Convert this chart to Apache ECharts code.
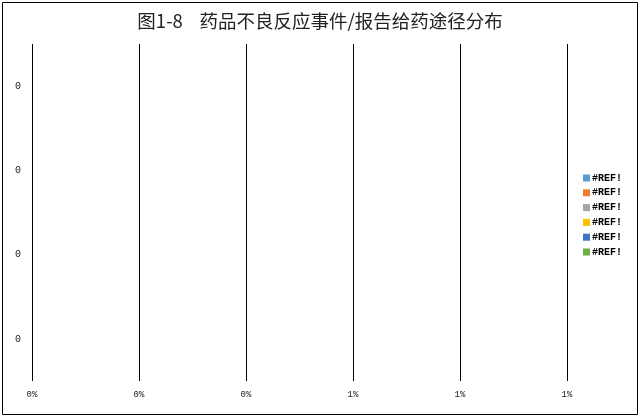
<!DOCTYPE html>
<html>
<head>
<meta charset="utf-8">
<script src="https://cdn.jsdelivr.net/npm/echarts@6/dist/echarts.min.js"></script>
<style>
  html, body { margin: 0; padding: 0; background: #fff; }
  #chart { width: 640px; height: 417px; }
</style>
</head>
<body>
<div id="chart"></div>
<script>
const TITLE = "图1-8    药品不良反应事件/报告给药途径分布";
const categories = ["0", "0", "0", "0"];
const seriesNames = ["#REF!", "#REF!", "#REF!", "#REF!", "#REF!", "#REF!"];
const seriesColors = ["#5B9BD5", "#ED7D31", "#A5A5A5", "#FFC000", "#4472C4", "#70AD47"];
// the source sheet has broken references, so every value is empty / zero
const seriesValues = [
  [0, 0, 0, 0],
  [0, 0, 0, 0],
  [0, 0, 0, 0],
  [0, 0, 0, 0],
  [0, 0, 0, 0],
  [0, 0, 0, 0]
];
const X_MIN = 0;
const X_MAX = 0.01;
const X_STEP = 0.002;

const LABEL_FONT = "'Liberation Mono', 'DejaVu Sans Mono', monospace";

// zero-width spaces keep the six identical legend names distinct
const uniqueName = (name, i) => name + "\u200b".repeat(i);

const chart = echarts.init(document.getElementById("chart"));

chart.setOption({
  animation: false,
  title: {
    text: TITLE,
    left: "center",
    top: 7,
    textStyle: {
      fontFamily: "'Noto Sans CJK SC', sans-serif",
      fontSize: 18.5,
      fontWeight: "normal",
      color: "#222"
    }
  },
  graphic: [
    {
      type: "rect",
      shape: { x: 2.5, y: 2.5, width: 635, height: 412 },
      style: { fill: "none", stroke: "#000", lineWidth: 1 },
      silent: true
    }
  ],
  legend: {
    orient: "vertical",
    left: 583,
    top: 173,
    padding: 0,
    itemWidth: 7,
    itemHeight: 7,
    itemGap: 4.8,
    icon: "rect",
    textStyle: {
      fontFamily: LABEL_FONT,
      fontSize: 10,
      fontWeight: "bold",
      color: "#000",
      padding: [0, 0, 0, -3]
    },
    data: seriesNames.map((name, i) => ({ name: uniqueName(name, i) }))
  },
  grid: {
    left: 32,
    right: 73,
    top: 44,
    bottom: 36,
    containLabel: false
  },
  xAxis: {
    type: "value",
    min: X_MIN,
    max: X_MAX,
    interval: X_STEP,
    axisLine: { show: false },
    axisTick: { show: false },
    splitLine: { show: true, lineStyle: { color: "#000", width: 1 } },
    axisLabel: {
      margin: 9,
      fontFamily: LABEL_FONT,
      fontSize: 9,
      color: "#222",
      formatter: (v) => Math.round(v * 100) + "%"
    }
  },
  yAxis: {
    type: "category",
    data: categories,
    axisLine: { show: false },
    axisTick: { show: false },
    splitLine: { show: false },
    axisLabel: {
      margin: 11,
      fontFamily: LABEL_FONT,
      fontSize: 10,
      color: "#222"
    }
  },
  series: seriesValues.map((values, i) => ({
    type: "bar",
    name: uniqueName(seriesNames[i], i),
    data: values,
    itemStyle: { color: seriesColors[i] },
    barGap: "0%"
  }))
});
</script>
</body>
</html>
